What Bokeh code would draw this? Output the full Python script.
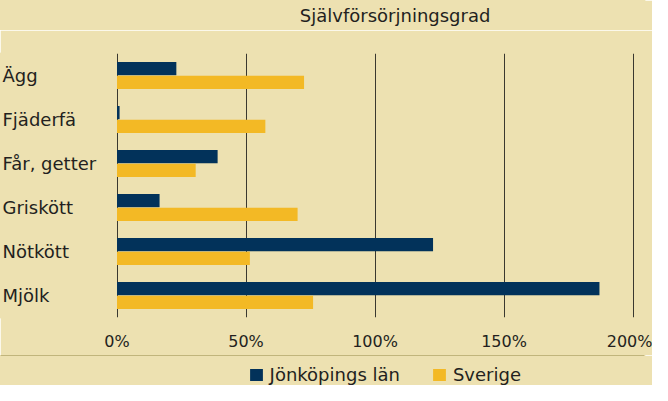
from bokeh.plotting import figure
from bokeh.layouts import column
from bokeh.models import (FactorRange, Range1d, FixedTicker, PrintfTickFormatter,
                          Label, Legend, LegendItem, ColumnDataSource)
from bokeh.transform import dodge
from bokeh.core.properties import value
from bokeh.embed import file_html
from bokeh.resources import INLINE

# ---- data ----
categories = ["Ägg", "Fjäderfä", "Får, getter", "Griskött", "Nötkött", "Mjölk"]
jonkoping = [23, 1, 39, 16.5, 122.5, 187]
sverige = [72.5, 57.5, 30.5, 70, 51.5, 76]
ticks = [0, 50, 100, 150, 200]
series_names = ["Jönköpings län", "Sverige"]
title_text = "Självförsörjningsgrad"

BG = "#EDE1B1"
NAVY = "#02325A"
YELLOW = "#F3B925"
TXT = "#231F20"
FONT = "DejaVu Sans"
W = 652

src = ColumnDataSource(dict(cat=categories, jk=jonkoping, sv=sverige))

PX = 2.58          # pixels per percent
ZERO_PAGE = 124.5  # page x of 0%
FRAME_LEFT_PAGE = 8
FRAME_RIGHT_PAGE = 652
x0 = (FRAME_LEFT_PAGE - ZERO_PAGE) / PX
x1 = (FRAME_RIGHT_PAGE - ZERO_PAGE) / PX


def style(f):
    f.background_fill_color = BG
    f.border_fill_color = BG
    f.outline_line_color = BG
    f.outline_line_width = 2


def strip(height):
    f = figure(width=W, height=height, output_backend="svg", toolbar_location=None,
               x_range=Range1d(0, 1), y_range=Range1d(0, 1),
               x_axis_location=None, y_axis_location=None, min_border=0)
    style(f)
    f.grid.visible = False
    return f


# ---- title strip ----
t = strip(30)
t.add_layout(Label(x=394.6, y=15, x_units="screen", y_units="screen",
                   text=title_text, text_align="center", text_baseline="middle",
                   text_font=FONT, text_font_size="18px", text_color=TXT))

# ---- main chart ----
p = figure(width=W, height=325, output_backend="svg", toolbar_location=None,
           y_range=FactorRange(factors=list(reversed(categories))),
           x_range=Range1d(x0, x1), y_axis_location=None,
           min_border_left=0, min_border_right=8, min_border_top=23,
           min_border_bottom=38)
style(p)

p.hbar(y=dodge("cat", 0.155, range=p.y_range), right="jk", left=0, height=0.30,
       source=src, fill_color=NAVY, line_color=None)
p.hbar(y=dodge("cat", -0.155, range=p.y_range), right="sv", left=0, height=0.30,
       source=src, fill_color=YELLOW, line_color=None)

# category labels, left aligned
lab_x = (10 - ZERO_PAGE) / PX
p.text(x=[lab_x] * len(categories), y=categories, text=categories,
       text_align="left", text_baseline="middle", text_font=value(FONT),
       text_font_size="18px", text_color=TXT)

p.xaxis.ticker = FixedTicker(ticks=ticks)
p.xaxis.formatter = PrintfTickFormatter(format="%d%%")
p.xaxis.axis_line_color = None
p.xaxis.major_tick_line_color = None
p.xaxis.minor_tick_line_color = None
p.xaxis.major_label_standoff = 8
p.xaxis.major_label_text_font = FONT
p.xaxis.major_label_text_font_size = "16px"
p.xaxis.major_label_text_color = TXT

p.xgrid.ticker = FixedTicker(ticks=ticks)
p.xgrid.grid_line_color = "#3A382F"
p.xgrid.grid_line_width = 1
p.ygrid.visible = False

# ---- legend strip ----
q = strip(30)
# swatch renderers kept outside the strip's visible range; only their legend glyphs show
l1 = q.hbar(y=[5], right=[1], left=0, height=0.5, fill_color=NAVY, line_color=None)
l2 = q.hbar(y=[5], right=[1], left=0, height=0.5, fill_color=YELLOW, line_color=None)

legend = Legend(items=[LegendItem(label=series_names[0], renderers=[l1]),
                       LegendItem(label=series_names[1], renderers=[l2])],
                location=(247.6, 0), orientation="horizontal",
                padding=0, margin=0, spacing=31, label_standoff=6,
                glyph_width=16, glyph_height=15,
                border_line_color=None, background_fill_alpha=0,
                label_text_font=FONT, label_text_font_size="18px",
                label_text_color=TXT, label_height=15)
q.add_layout(legend)

layout = column(t, p, q, spacing=0)
open("out.html", "w").write(file_html(layout, INLINE))
